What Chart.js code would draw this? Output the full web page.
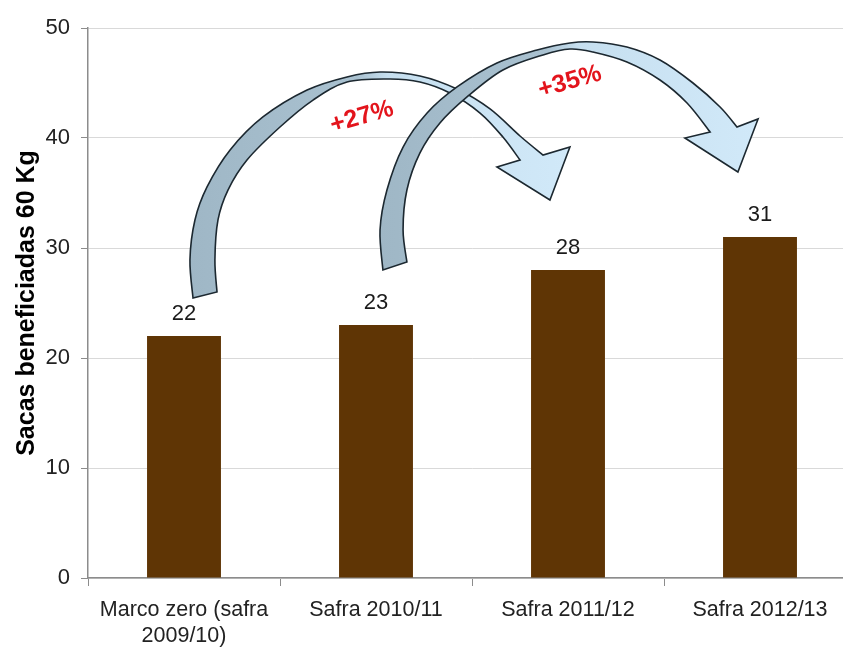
<!DOCTYPE html>
<html><head><meta charset="utf-8">
<script src="https://cdn.jsdelivr.net/npm/chart.js@4.4.1/dist/chart.umd.min.js"></script>
<style>
html,body{margin:0;padding:0;background:#fff;overflow:hidden;}
#wrap{width:860px;height:647px;position:relative;}
</style></head><body>
<div id="wrap"><canvas id="c"></canvas></div>
<script>
const categories = [["Marco zero (safra","2009/10)"],"Safra 2010/11","Safra 2011/12","Safra 2012/13"];
const values = [22,23,28,31];
const yMin = 0, yMax = 50, yStep = 10;
const yTitle = "Sacas beneficiadas 60 Kg";
const growthLabels = ["+27%","+35%"];

// Annotation arrows, in data units [category index, value]
const arrow1Edge = [[0.047,25.45],[0.031,28.91],[0.057,32.55],[0.120,35.55],[0.240,38.91],[0.411,41.91],[0.641,44.36],[0.849,45.55],[1.021,46.0],[1.229,45.64],[1.422,44.45],[1.594,42.64],[1.750,40.18],[1.870,38.45]];
const arrow1Head = [[2.010,39.18],[1.906,34.36],[1.630,37.36]];
const arrow1Back = [[1.750,38.0],[1.661,40.09],[1.542,42.27],[1.385,44.09],[1.229,45.09],[1.073,45.36],[0.849,45.09],[0.672,43.45],[0.500,41.0],[0.328,38.0],[0.229,35.27],[0.177,32.55],[0.161,28.91],[0.172,26.0]];
const arrow2Edge = [[1.036,28.0],[1.021,31.64],[1.057,35.27],[1.141,39.18],[1.266,42.27],[1.422,44.64],[1.630,46.82],[1.839,48.0],[2.010,48.64],[2.130,48.73],[2.307,48.27],[2.479,47.09],[2.651,45.0],[2.792,42.82],[2.880,41.0]];
const arrow2Head = [[2.990,41.73],[2.885,36.91],[2.609,40.0]];
const arrow2Back = [[2.740,40.55],[2.620,43.18],[2.479,45.27],[2.307,46.91],[2.130,47.82],[2.010,48.09],[1.870,47.55],[1.661,46.18],[1.474,43.73],[1.333,41.36],[1.229,38.64],[1.161,35.27],[1.141,31.64],[1.161,28.73]];
const labelPos = [[0.927,41.9],[2.010,45.1]];

const SANS = '"Liberation Sans", Arial, sans-serif';

function smoothThrough(ctx, pts, moveFirst){
  if (moveFirst) ctx.moveTo(pts[0][0], pts[0][1]); else ctx.lineTo(pts[0][0], pts[0][1]);
  for (let i = 0; i < pts.length - 1; i++){
    const p0 = pts[Math.max(i-1,0)], p1 = pts[i], p2 = pts[i+1], p3 = pts[Math.min(i+2, pts.length-1)];
    ctx.bezierCurveTo(p1[0]+(p2[0]-p0[0])/6, p1[1]+(p2[1]-p0[1])/6,
                      p2[0]-(p3[0]-p1[0])/6, p2[1]-(p3[1]-p1[1])/6, p2[0], p2[1]);
  }
}

const arrowsPlugin = {
  id: 'arrows',
  afterDatasetsDraw(chart){
    const ctx = chart.ctx, xs = chart.scales.x, ys = chart.scales.y;
    const P = a => a.map(p => [xs.getPixelForValue(p[0]), ys.getPixelForValue(p[1])]);
    // bar value labels
    const meta = chart.getDatasetMeta(0);
    ctx.save();
    ctx.font = '22px ' + SANS;
    ctx.fillStyle = '#1a1a1a';
    ctx.textAlign = 'center';
    ctx.textBaseline = 'alphabetic';
    meta.data.forEach((bar, i) => ctx.fillText(String(values[i]), bar.x, bar.y - 16));
    ctx.restore();

    const drawArrow = (edge, head, back) => {
      const E = P(edge), H = P(head), B = P(back);
      const x0 = Math.min(...E.map(p=>p[0])), x1 = Math.max(...H.map(p=>p[0]));
      const g = ctx.createLinearGradient(x0, 0, x1, 0);
      g.addColorStop(0, '#9fb7c6');
      g.addColorStop(0.44, '#a9c1d0');
      g.addColorStop(0.52, '#c6dfef');
      g.addColorStop(1, '#d1e9f9');
      ctx.save();
      ctx.beginPath();
      smoothThrough(ctx, E, true);
      H.forEach(p => ctx.lineTo(p[0], p[1]));
      smoothThrough(ctx, B, false);
      ctx.closePath();
      ctx.fillStyle = g;
      ctx.fill();
      ctx.lineWidth = 1.6;
      ctx.lineJoin = 'miter';
      ctx.strokeStyle = '#1c2830';
      ctx.stroke();
      ctx.restore();
    };
    drawArrow(arrow1Edge, arrow1Head, arrow1Back);
    drawArrow(arrow2Edge, arrow2Head, arrow2Back);

    ctx.save();
    ctx.font = 'bold 25px ' + SANS;
    ctx.fillStyle = '#e3141c';
    ctx.textAlign = 'center';
    ctx.textBaseline = 'middle';
    growthLabels.forEach((t, i) => {
      const [px, py] = P([labelPos[i]])[0];
      ctx.save();
      ctx.translate(px, py);
      ctx.rotate(-16 * Math.PI / 180);
      ctx.fillText(t, 0, 0);
      ctx.restore();
    });
    ctx.restore();
  }
};

new Chart(document.getElementById('c'), {
  type: 'bar',
  data: {
    labels: categories,
    datasets: [{
      data: values,
      backgroundColor: '#5f3505',
      borderWidth: 0,
      categoryPercentage: 1,
      barPercentage: 0.385
    }]
  },
  options: {
    responsive: true,
    maintainAspectRatio: false,
    animation: false,
    layout: { padding: { top: 28, right: 4, left: 0, bottom: 0 } },
    plugins: { legend: { display: false }, tooltip: { enabled: false } },
    scales: {
      x: {
        grid: { display: true, drawOnChartArea: false, tickLength: 8, tickColor: '#8c8c8c', offset: true },
        border: { color: '#8c8c8c', width: 1.5 },
        ticks: { font: { family: SANS, size: 21.5, lineHeight: 1.2 }, color: '#222', padding: 11, maxRotation: 0, autoSkip: false },
        afterFit: s => { s.height = 69; }
      },
      y: {
        min: yMin, max: yMax,
        ticks: { stepSize: yStep, font: { family: SANS, size: 22 }, color: '#222', padding: 11 },
        grid: { color: '#d9d9d9', tickColor: '#8c8c8c', tickLength: 7, lineWidth: 1 },
        border: { color: '#8c8c8c', width: 1.5 },
        title: { display: true, text: yTitle, color: '#000', font: { family: SANS, size: 25, weight: 'bold' }, padding: { top: 12, bottom: 0 } },
        afterFit: s => { s.width = 88; }
      }
    }
  },
  plugins: [arrowsPlugin]
});
</script>
</body></html>
